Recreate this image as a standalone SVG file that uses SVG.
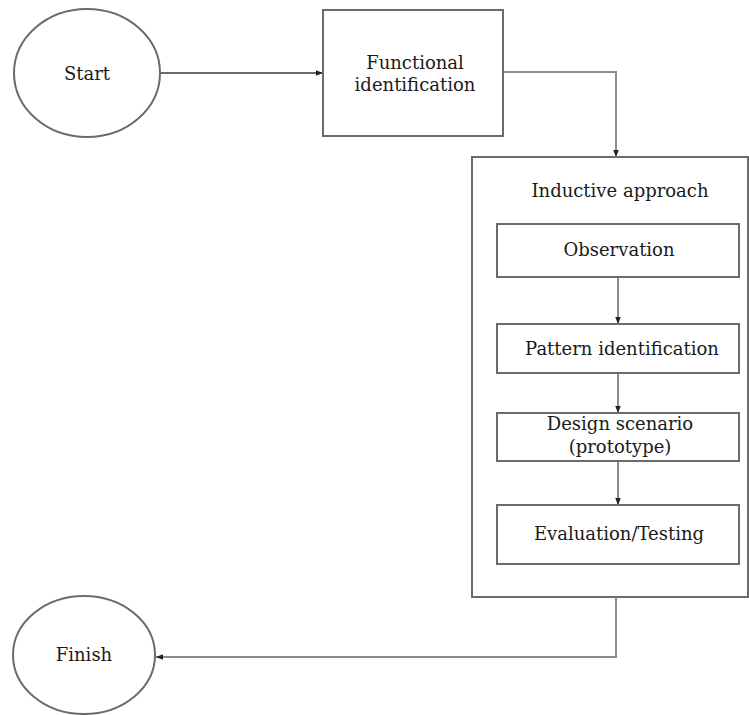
<svg xmlns="http://www.w3.org/2000/svg" width="749" height="715" viewBox="0 0 749 715">
<defs>
<marker id="arr" viewBox="0 0 10 10" refX="10" refY="5" markerWidth="7" markerHeight="7" markerUnits="userSpaceOnUse" orient="auto">
<path d="M0,1 L10,5 L0,9 z" fill="#222"/>
</marker>
</defs>
<style>
.box{fill:#fff;stroke:#6b6b6b;stroke-width:2}
.con{fill:none;stroke:#8c8c8c;stroke-width:2}
.con2{fill:none;stroke:#6b6b6b;stroke-width:2}
.t{font-family:'DejaVu Serif',serif;font-size:18px;fill:#1a1a1a;text-anchor:middle}
</style>
<rect width="749" height="715" fill="#fff"/>
<g id="inductive">
<rect class="box" x="472" y="157" width="276" height="440"/>
<text class="t" x="620" y="197">Inductive approach</text>
</g>
<g id="connectors">
<path class="con2" d="M160,73 H323" marker-end="url(#arr)"/>
<path class="con" d="M503,72 H616 V157" marker-end="url(#arr)"/>
<path class="con" d="M618,277 V324" marker-end="url(#arr)"/>
<path class="con" d="M618,373 V413" marker-end="url(#arr)"/>
<path class="con" d="M618,461 V505" marker-end="url(#arr)"/>
<path class="con" d="M616,597 V657 H156" marker-end="url(#arr)"/>
</g>
<g id="start">
<ellipse class="box" cx="87" cy="73" rx="73" ry="64"/>
<text class="t" x="87" y="80">Start</text>
</g>
<g id="functional">
<rect class="box" x="323" y="10" width="180" height="126"/>
<text class="t" x="415" y="69">Functional</text>
<text class="t" x="415" y="91">identification</text>
</g>
<g id="observation">
<rect class="box" x="497" y="224" width="242" height="53"/>
<text class="t" x="619" y="256">Observation</text>
</g>
<g id="pattern">
<rect class="box" x="497" y="324" width="242" height="49"/>
<text class="t" x="622" y="355">Pattern identification</text>
</g>
<g id="design">
<rect class="box" x="497" y="413" width="242" height="48"/>
<text class="t" x="620" y="430">Design scenario</text>
<text class="t" x="620" y="453">(prototype)</text>
</g>
<g id="evaluation">
<rect class="box" x="497" y="505" width="242" height="59"/>
<text class="t" x="619" y="540">Evaluation/Testing</text>
</g>
<g id="finish">
<ellipse class="box" cx="84" cy="655" rx="71" ry="59"/>
<text class="t" x="84" y="661">Finish</text>
</g>
</svg>
